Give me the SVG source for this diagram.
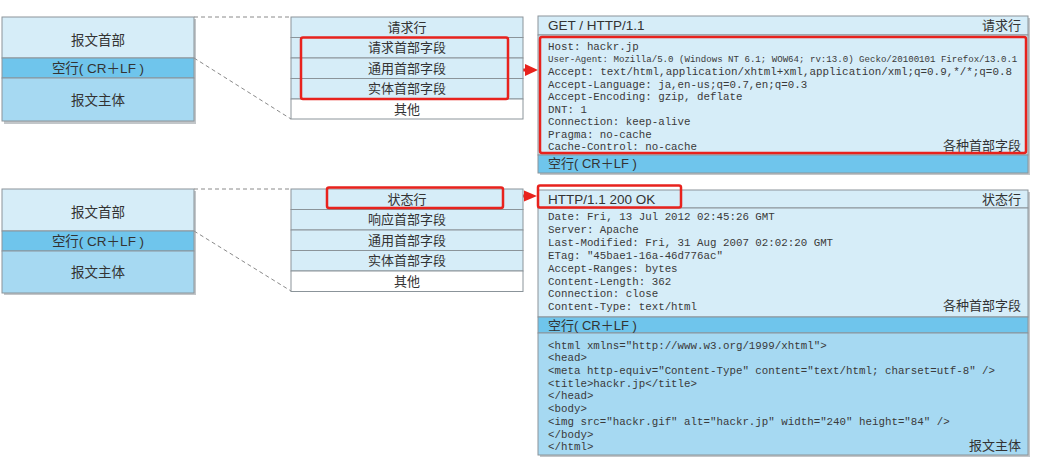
<svg xmlns="http://www.w3.org/2000/svg" width="1045" height="471" viewBox="0 0 1045 471">
<defs>
<style>
.sans{font-family:"Liberation Sans","Noto Sans CJK SC",sans-serif;fill:#333;}
.c13{font-size:13px;text-anchor:middle;}
.c14{font-size:13.5px;text-anchor:middle;}
.l13{font-size:13px;}
.r13{font-size:13px;text-anchor:end;}
.mono{font-family:"Liberation Mono","DejaVu Sans Mono",monospace;font-size:10.8px;fill:#3a3a3a;}
.box{stroke:#8b949a;stroke-width:1;}
.light{fill:#d6edf8;}
.blank{fill:#6fc5ec;}
.body{fill:#a6d9f2;}
.white{fill:#ffffff;}
.shadow{fill:#8f979c;opacity:0.55;}
.dash{stroke:#8a8a8a;stroke-width:1;stroke-dasharray:4 3;fill:none;}
.red{fill:none;stroke:#e8221d;stroke-width:2.5;}
.arrow{stroke:#e8221d;stroke-width:3;fill:none;}
.head{fill:#e8221d;}
</style>
</defs>
<rect width="1045" height="471" fill="#ffffff"/>

<g id="connectors">
<line class="dash" x1="194" y1="17" x2="291" y2="17"/>
<line class="dash" x1="194" y1="58" x2="291" y2="119"/>
<line class="dash" x1="194" y1="189" x2="291" y2="189"/>
<line class="dash" x1="194" y1="231" x2="291" y2="291"/>
<line class="arrow" x1="512" y1="70" x2="527" y2="70"/>
<polygon class="head" points="538,70 525,64 525,76"/>
<line class="arrow" x1="507" y1="196" x2="526" y2="196"/>
<polygon class="head" points="537,196 524,190.5 524,201.5"/>
</g>

<g id="req-message">
<rect class="shadow" x="4" y="19" width="192" height="105"/>
<rect class="box light" x="2" y="17" width="192" height="41"/>
<rect class="box blank" x="2" y="58" width="192" height="20"/>
<rect class="box body" x="2" y="78" width="192" height="43"/>
<text class="sans c14" x="98" y="45">报文首部</text>
<text class="sans c14" x="98" y="73">空行( CR＋LF )</text>
<text class="sans c14" x="98" y="105">报文主体</text>
</g>

<g id="req-structure">
<rect class="box light" x="291" y="17" width="232" height="20.5"/>
<rect class="box light" x="291" y="37.5" width="232" height="20.5"/>
<rect class="box light" x="291" y="58" width="232" height="20.5"/>
<rect class="box light" x="291" y="78.5" width="232" height="20.5"/>
<rect class="box white" x="291" y="99" width="232" height="20"/>
<text class="sans c13" x="407" y="32">请求行</text>
<text class="sans c13" x="407" y="52">请求首部字段</text>
<text class="sans c13" x="407" y="73">通用首部字段</text>
<text class="sans c13" x="407" y="93">实体首部字段</text>
<text class="sans c13" x="407" y="114">其他</text>
<rect class="red" x="301" y="37.5" width="207" height="61.5" rx="2"/>
</g>

<g id="req-example">
<rect class="shadow" x="540" y="18" width="490" height="157"/>
<rect class="box light" x="538" y="16" width="490" height="19"/>
<rect class="box light" x="538" y="35" width="490" height="120"/>
<rect class="box blank" x="538" y="155" width="490" height="18"/>
<text class="sans l13" x="548" y="30" style="font-size:13.5px">GET / HTTP/1.1</text>
<text class="sans r13" x="1021" y="30">请求行</text>
<text class="mono" x="548" y="50">Host: hackr.jp</text>
<text class="mono" x="548" y="62" style="font-size:9.1px">User-Agent: Mozilla/5.0 (Windows NT 6.1; WOW64; rv:13.0) Gecko/20100101 Firefox/13.0.1</text>
<text class="mono" x="548" y="75" style="font-size:10.9px">Accept: text/html,application/xhtml+xml,application/xml;q=0.9,*/*;q=0.8</text>
<text class="mono" x="548" y="88">Accept-Language: ja,en-us;q=0.7,en;q=0.3</text>
<text class="mono" x="548" y="100">Accept-Encoding: gzip, deflate</text>
<text class="mono" x="548" y="113">DNT: 1</text>
<text class="mono" x="548" y="125">Connection: keep-alive</text>
<text class="mono" x="548" y="138">Pragma: no-cache</text>
<text class="mono" x="548" y="150">Cache-Control: no-cache</text>
<text class="sans r13" x="1021" y="150">各种首部字段</text>
<text class="sans l13" x="548" y="168">空行( CR＋LF )</text>
<rect class="red" x="540" y="37" width="486" height="116" rx="2"/>
</g>

<g id="res-message">
<rect class="shadow" x="4" y="191" width="192" height="104"/>
<rect class="box light" x="2" y="189" width="192" height="42"/>
<rect class="box blank" x="2" y="231" width="192" height="20"/>
<rect class="box body" x="2" y="251" width="192" height="42"/>
<text class="sans c14" x="98" y="217">报文首部</text>
<text class="sans c14" x="98" y="246">空行( CR＋LF )</text>
<text class="sans c14" x="98" y="277">报文主体</text>
</g>

<g id="res-structure">
<rect class="box light" x="291" y="189" width="232" height="20.5"/>
<rect class="box light" x="291" y="209.5" width="232" height="20.5"/>
<rect class="box light" x="291" y="230" width="232" height="20.5"/>
<rect class="box light" x="291" y="250.5" width="232" height="20.5"/>
<rect class="box white" x="291" y="271" width="232" height="20.5"/>
<text class="sans c13" x="407" y="204">状态行</text>
<text class="sans c13" x="407" y="224">响应首部字段</text>
<text class="sans c13" x="407" y="245">通用首部字段</text>
<text class="sans c13" x="407" y="265">实体首部字段</text>
<text class="sans c13" x="407" y="286">其他</text>
<rect class="red" x="327" y="187.5" width="176" height="20.5" rx="2"/>
</g>

<g id="res-example">
<rect class="shadow" x="540" y="192" width="490" height="265"/>
<rect class="box light" x="538" y="190" width="490" height="18"/>
<rect class="box light" x="538" y="208" width="490" height="109"/>
<rect class="box blank" x="538" y="317" width="490" height="16"/>
<rect class="box body" x="538" y="333" width="490" height="122"/>
<text class="sans l13" x="548" y="204" style="font-size:13.5px">HTTP/1.1 200 OK</text>
<text class="sans r13" x="1021" y="204">状态行</text>
<text class="mono" x="548" y="220">Date: Fri, 13 Jul 2012 02:45:26 GMT</text>
<text class="mono" x="548" y="233">Server: Apache</text>
<text class="mono" x="548" y="246">Last-Modified: Fri, 31 Aug 2007 02:02:20 GMT</text>
<text class="mono" x="548" y="259">ETag: "45bae1-16a-46d776ac"</text>
<text class="mono" x="548" y="272">Accept-Ranges: bytes</text>
<text class="mono" x="548" y="285">Content-Length: 362</text>
<text class="mono" x="548" y="297">Connection: close</text>
<text class="mono" x="548" y="310">Content-Type: text/html</text>
<text class="sans r13" x="1021" y="310">各种首部字段</text>
<text class="sans l13" x="548" y="330">空行( CR＋LF )</text>
<text class="mono" x="548" y="349">&lt;html xmlns="http://www.w3.org/1999/xhtml"&gt;</text>
<text class="mono" x="548" y="361">&lt;head&gt;</text>
<text class="mono" x="548" y="374">&lt;meta http-equiv="Content-Type" content="text/html; charset=utf-8" /&gt;</text>
<text class="mono" x="548" y="387">&lt;title&gt;hackr.jp&lt;/title&gt;</text>
<text class="mono" x="548" y="399">&lt;/head&gt;</text>
<text class="mono" x="548" y="412">&lt;body&gt;</text>
<text class="mono" x="548" y="425">&lt;img src="hackr.gif" alt="hackr.jp" width="240" height="84" /&gt;</text>
<text class="mono" x="548" y="438">&lt;/body&gt;</text>
<text class="mono" x="548" y="450">&lt;/html&gt;</text>
<text class="sans r13" x="1021" y="450">报文主体</text>
<rect class="red" x="538" y="185.5" width="143" height="22" rx="2"/>
</g>
</svg>
